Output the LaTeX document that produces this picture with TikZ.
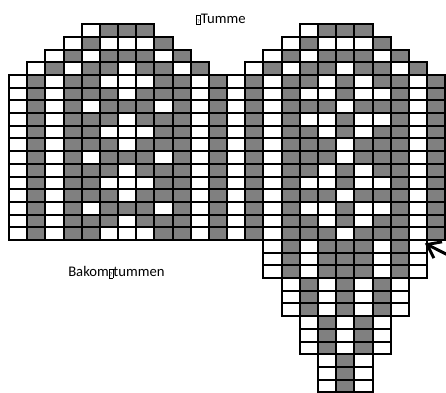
\documentclass[tikz,border=0pt]{standalone}
\usepackage{fontspec}
\setmainfont{Carlito}
\usepackage{tikz}
\usetikzlibrary{arrows.meta}
\tikzset{
  % --- knitting chart cells (0 = white, 1 = grey) ---
  cell0/.style={draw, fill=white, line width=1.5pt},
  cell1/.style={draw, fill=gray, line width=1.5pt},
  % --- labels and pointer ---
  chartlabel/.style={font=\fontsize{11}{13}\selectfont, inner sep=0pt},
  pointer/.style={-{Straight Barb[length=3.2mm, width=4.8mm]}, line width=2.2pt},
}
% one row of the chart: row, first column, cell list
\newcommand\chartrow[3]{%
  \foreach \v [count=\i from 0] in {#3}{ \draw[cell\v] (#2+\i,#1) rectangle ++(1,1); }}
% missing glyph box as printed in the labels
\newcommand\notdef{{\setlength{\fboxsep}{0.4pt}\setlength{\fboxrule}{0.4pt}%
  \fbox{\fontsize{4}{4}\selectfont\rule{0pt}{5.5pt}?}}}

\begin{document}
\begin{tikzpicture}[x=13.635pt, y=-9.5175pt]
    \useasboundingbox (-0.495,-1.915) rectangle (24.04,28.98);
    % rounded tops, both halves
    \foreach \s in {0,12}{
      \chartrow{0}{4+\s}{0,1,1,1}
      \chartrow{1}{3+\s}{0,1,0,0,0,1}
      \chartrow{2}{2+\s}{0,1,0,1,1,1,0,1}
      \chartrow{3}{1+\s}{0,1,0,1,1,0,1,1,0,1}
    }
    % back of thumb (left)
    \foreach \r in {4,8,12,16}{ \chartrow{\r}{0}{0,1,0,1,1,0,0,0,1,1,0,1} }
    \foreach \r in {5,7,...,15}{ \chartrow{\r}{0}{0,1,0,1,1,1,0,1,1,1,0,1} }
    \foreach \r in {6,10,14}{ \chartrow{\r}{0}{0,1,0,1,0,1,1,1,0,1,0,1} }
    % thumb (right)
    \foreach \r in {4,8,11,15}{ \chartrow{\r}{12}{0,1,0,1,1,0,1,0,1,1,0,1} }
    \foreach \r in {5,7,12,14}{ \chartrow{\r}{12}{0,1,0,1,0,0,1,0,0,1,0,1} }
    \foreach \r in {6,9,10,13,16}{ \chartrow{\r}{12}{0,1,0,1,1,1,0,1,1,1,0,1} }
    % gusset
    \foreach \r in {17,18,19}{ \chartrow{\r}{14}{0,1,0,1,1,1,0,1,0} }
    \foreach \r in {20,21,22}{ \chartrow{\r}{15}{0,1,0,1,0,1,0} }
    \foreach \r in {23,24,25}{ \chartrow{\r}{16}{0,1,0,1,0} }
    \foreach \r in {26,27,28}{ \chartrow{\r}{17}{0,1,0} }
    % labels
    \node[chartlabel, anchor=base west] (thumblabel) at (10.29,-0.1) {\notdef Tumme};
    \node[chartlabel, anchor=base west] (backlabel) at (3.245,19.91) {Bakom\notdef tummen};
    % pointer to start of gusset
    \coordinate (gussetedge) at (22.88,17.27);
    \coordinate (pointertail) at (24.3,18.29);
    \draw[pointer] (pointertail) -- (gussetedge);
\end{tikzpicture}
\end{document}
